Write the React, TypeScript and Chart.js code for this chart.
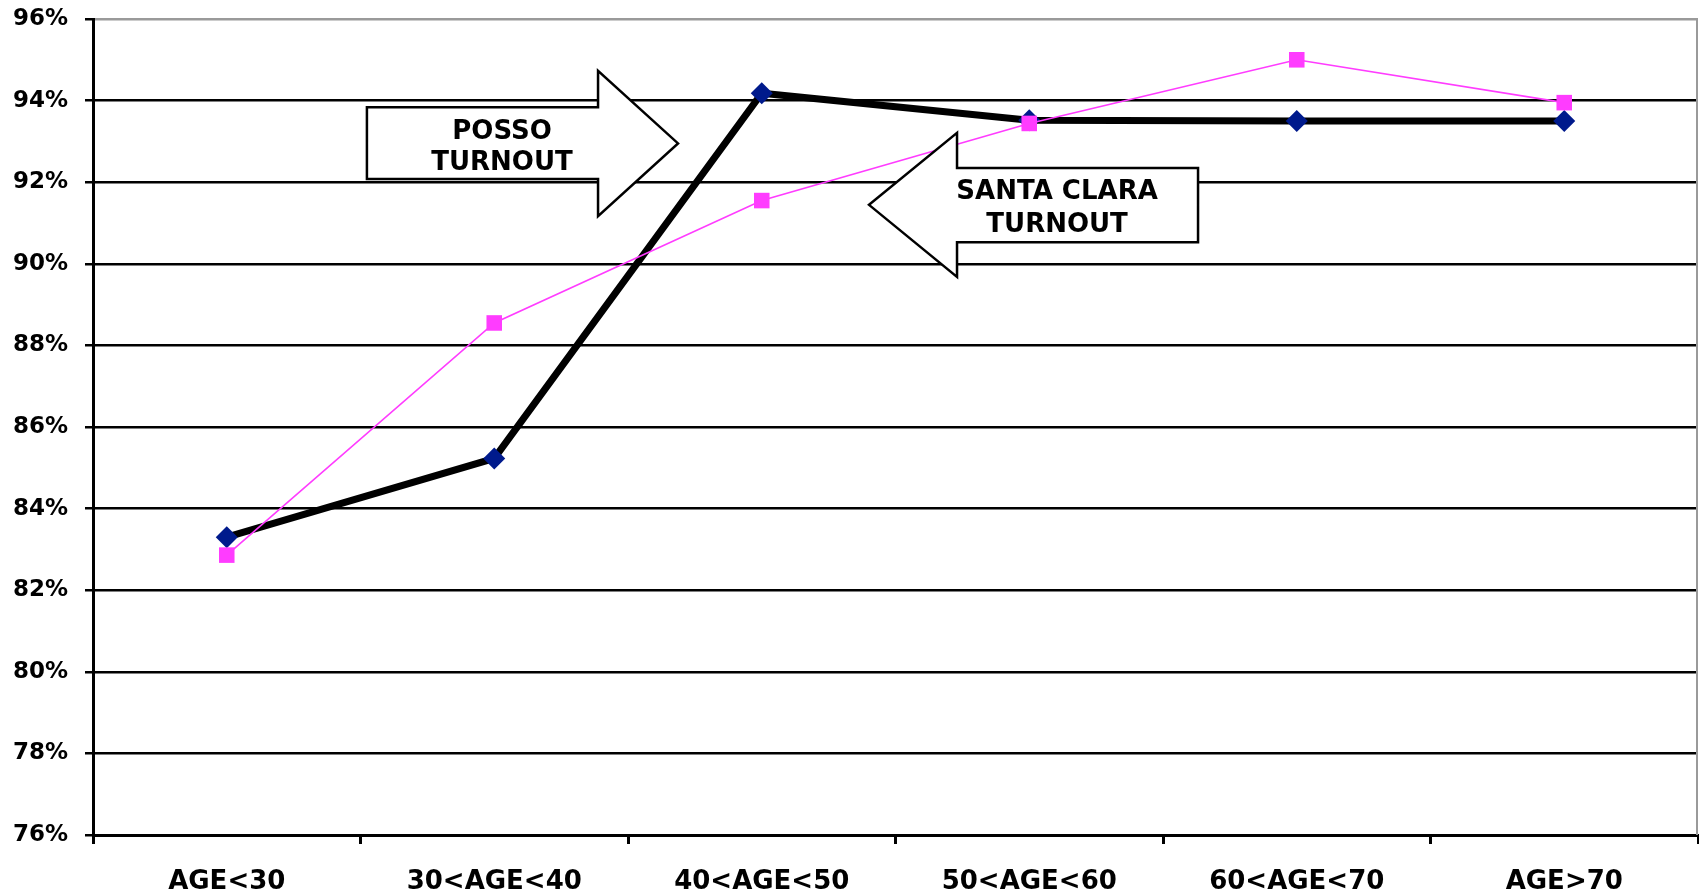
import React, { useEffect, useRef } from "react";
import { Chart, registerables } from "chart.js";

Chart.register(...registerables);

const categories = ["AGE<30", "30<AGE<40", "40<AGE<50", "50<AGE<60", "60<AGE<70", "AGE>70"];
const possoTurnout = [83.3, 85.23, 94.18, 93.52, 93.5, 93.5];
const santaClaraTurnout = [82.86, 88.55, 91.55, 93.44, 95.0, 93.95];
const yMin = 76;
const yMax = 96;
const yStep = 2;

// Callout arrows, positioned in data units (x: category index, y: percent)
const arrowNotes = [
  {
    dir: 1,
    lines: ["POSSO", "TURNOUT"],
    tail: 0.524, base: 1.388, tip: 1.687,
    bodyTop: 93.84, bodyBottom: 92.08, headTop: 94.73, headBottom: 91.17,
    textX: 1.029, textY: [93.23, 92.47],
  },
  {
    dir: -1,
    lines: ["SANTA CLARA", "TURNOUT"],
    tail: 3.631, base: 2.73, tip: 2.401,
    bodyTop: 92.35, bodyBottom: 90.53, headTop: 93.21, headBottom: 89.68,
    textX: 3.104, textY: [91.76, 90.95],
  },
];

const FONT = "'DejaVu Sans', 'Liberation Sans', Arial, sans-serif";

const arrowPlugin = {
  id: "arrowNotes",
  beforeDatasetsDraw(chart: any) {
    const { ctx, chartArea } = chart;
    ctx.save();
    ctx.strokeStyle = "#9a9a9a";
    ctx.lineWidth = 2;
    ctx.beginPath();
    ctx.moveTo(chartArea.right - 1, chartArea.top);
    ctx.lineTo(chartArea.right - 1, chartArea.bottom);
    ctx.stroke();
    ctx.restore();
  },
  afterDatasetsDraw(chart: any) {
    const { ctx } = chart;
    const x = chart.scales.x;
    const y = chart.scales.y;
    ctx.save();
    for (const a of arrowNotes) {
      const xt = x.getPixelForValue(a.tail);
      const xb = x.getPixelForValue(a.base);
      const xp = x.getPixelForValue(a.tip);
      const yb1 = y.getPixelForValue(a.bodyTop);
      const yb2 = y.getPixelForValue(a.bodyBottom);
      const yh1 = y.getPixelForValue(a.headTop);
      const yh2 = y.getPixelForValue(a.headBottom);
      const ym = (yh1 + yh2) / 2;
      ctx.beginPath();
      ctx.moveTo(xt, yb1);
      ctx.lineTo(xb, yb1);
      ctx.lineTo(xb, yh1);
      ctx.lineTo(xp, ym);
      ctx.lineTo(xb, yh2);
      ctx.lineTo(xb, yb2);
      ctx.lineTo(xt, yb2);
      ctx.closePath();
      ctx.fillStyle = "#ffffff";
      ctx.fill();
      ctx.lineWidth = 2.5;
      ctx.lineJoin = "miter";
      ctx.strokeStyle = "#000000";
      ctx.stroke();
      ctx.fillStyle = "#000000";
      ctx.font = `bold 26px ${FONT}`;
      ctx.textAlign = "center";
      ctx.textBaseline = "middle";
      const tx = x.getPixelForValue(a.textX);
      a.lines.forEach((ln, i) => {
        ctx.fillText(ln, tx, y.getPixelForValue(a.textY[i]));
      });
    }
    ctx.restore();
  },
};

export default function App() {
  const ref = useRef<HTMLCanvasElement | null>(null);
  useEffect(() => {
    document.body.style.margin = "0";
    const canvas = ref.current;
    if (!canvas) return;
    const chart = new Chart(canvas, {
      type: "line",
      data: {
        labels: categories,
        datasets: [
          {
            label: "Santa Clara Turnout",
            data: santaClaraTurnout,
            borderColor: "#ff3cff",
            backgroundColor: "#ff3cff",
            borderWidth: 1.6,
            pointStyle: "rect",
            pointRadius: 11,
            pointBorderWidth: 0,
            pointBackgroundColor: "#ff3cff",
            tension: 0,
          },
          {
            label: "Posso Turnout",
            data: possoTurnout,
            borderColor: "#000000",
            backgroundColor: "#001a8c",
            borderWidth: 7,
            pointStyle: "rectRot",
            pointRadius: 11,
            pointBorderWidth: 0,
            pointBackgroundColor: "#001a8c",
            tension: 0,
          },
        ],
      },
      options: {
        responsive: false,
        animation: false,
        layout: { autoPadding: false, padding: { top: 19, right: 1, left: 0, bottom: 0 } },
        plugins: {
          legend: { display: false },
          tooltip: { enabled: false },
          title: { display: false },
        },
        scales: {
          x: {
            type: "category",
            offset: true,
            grid: {
              offset: true,
              drawOnChartArea: false,
              drawTicks: true,
              tickLength: 9,
              color: "#000000",
              lineWidth: 3,
            },
            border: { display: true, color: "#000000", width: 3 },
            ticks: {
              color: "#000000",
              font: { family: FONT, size: 26, weight: "bold" },
              padding: 23,
              maxRotation: 0,
              autoSkip: false,
            },
            afterFit: (s: any) => {
              s.height = 60;
              s.paddingLeft = 0;
              s.paddingRight = 0;
            },
          },
          y: {
            min: yMin,
            max: yMax,
            grid: {
              color: (c: any) => (c.tick && c.tick.value === yMax ? "#9a9a9a" : "#000000"),
              tickColor: "#000000",
              lineWidth: 2.5,
              tickLength: 8,
              drawTicks: true,
            },
            border: { display: true, color: "#000000", width: 3 },
            ticks: {
              stepSize: yStep,
              color: "#000000",
              padding: 17,
              font: { family: FONT, size: 23, weight: "bold" },
              callback: (v: any) => `${v}%`,
            },
            afterFit: (s: any) => {
              s.width = 93;
              s.paddingTop = 0;
              s.paddingBottom = 0;
            },
          },
        },
      },
      plugins: [arrowPlugin],
    });
    return () => chart.destroy();
  }, []);
  return (
    <div style={{ position: "fixed", left: 0, top: 0, width: 1699, height: 895, background: "#fff" }}>
      <canvas ref={ref} width={1699} height={895} />
    </div>
  );
}
